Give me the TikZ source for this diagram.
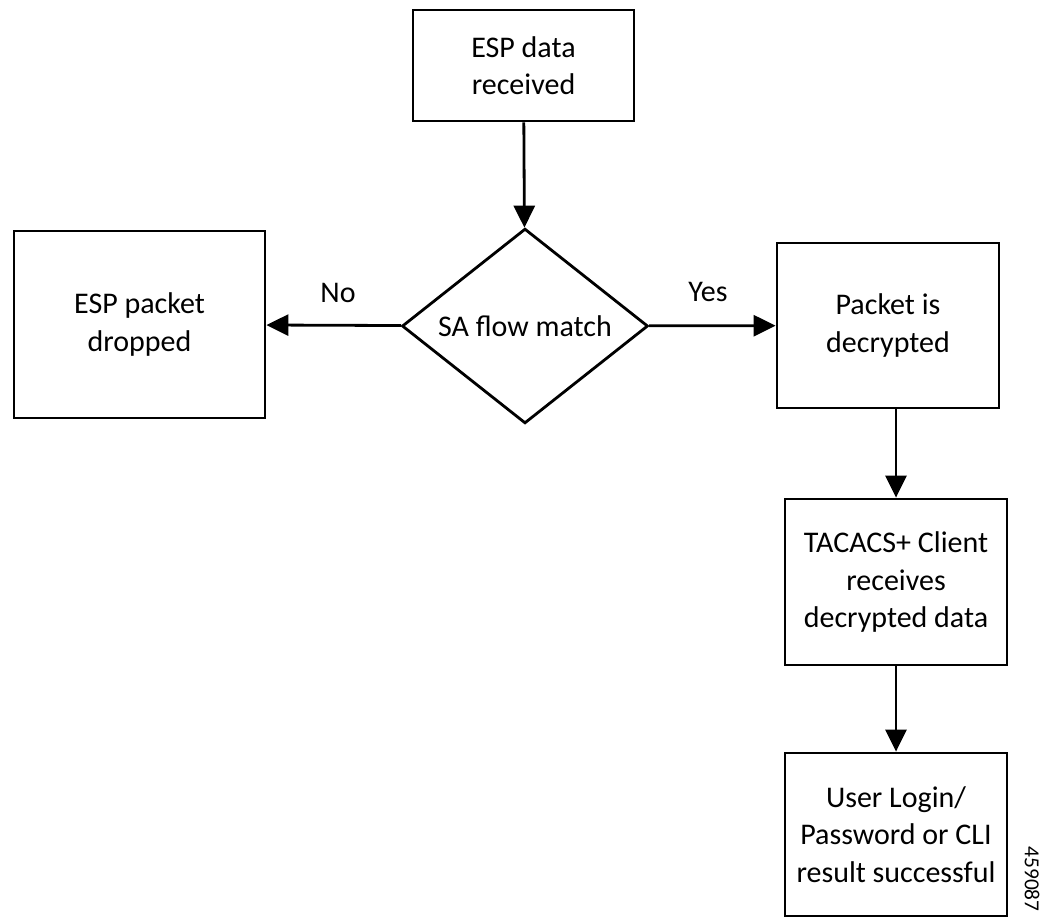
\documentclass[tikz,border=0pt]{standalone}
\usepackage{fontspec}
\setmainfont{Carlito}
\usetikzlibrary{arrows.meta,shapes.geometric}

\tikzset{
    stepbox/.style={draw, line width=1.4pt, align=center, inner sep=0pt},
    decide/.style={draw, diamond, line width=1.4pt, inner sep=0pt, minimum width=123pt, minimum height=93pt},
    flow/.style={line width=1.4pt, -{Triangle[width=10.5pt,length=11pt]}},
    every node/.style={font=\fontsize{15}{18.75}\selectfont}
}

\begin{document}
\begin{tikzpicture}[x=0.5pt, y=-0.5pt]
            \useasboundingbox (0,0) rectangle (1041,918);
            \node[stepbox, minimum width=110.5pt, minimum height=55.5pt] (recv) at (523.5,65.5) {ESP data\\received};
            \node[decide] (match) at (525,326) {SA flow match};
            \node[stepbox, minimum width=125.5pt, minimum height=93.5pt] (drop) at (139.5,324.5) {ESP packet\\dropped};
            \node[stepbox, minimum width=111pt, minimum height=82.5pt] (decrypt) at (888,325.5) {Packet is\\decrypted};
            \node[stepbox, minimum width=111pt, minimum height=83pt] (client) at (896,582) {TACACS+ Client\\receives\\decrypted data};
            \node[stepbox, minimum width=111pt, minimum height=81.5pt] (login) at (896,834.5) {User Login/\\Password or CLI\\result successful};
            % branch labels
            \node (no) at (338,293) {No};
            \node (yes) at (708,292) {Yes};
            \node[rotate=-90, font=\fontsize{10.7}{12}\selectfont] (figid) at (1032,879) {459087};
            % connectors
            \draw[flow] (recv) -- (match);
            \draw[flow] (match) -- (drop);
            \draw[flow] (match) -- (decrypt);
            \draw[flow] (client.north |- decrypt.south) -- (client);
            \draw[flow] (client) -- (login);
        \end{tikzpicture}
\end{document}
